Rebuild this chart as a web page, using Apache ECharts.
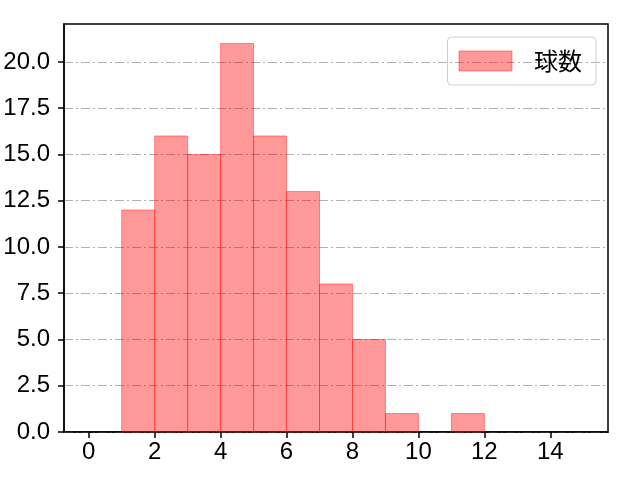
<!DOCTYPE html>
<html>
<head>
<meta charset="utf-8">
<script src="https://cdn.jsdelivr.net/npm/echarts@6/dist/echarts.min.js"></script>
<style>
  html, body { margin: 0; padding: 0; background: #fff; }
  #main { width: 640px; height: 480px; }
</style>
</head>
<body>
<div id="main"></div>
<script>
// histogram of 球数: bins of width 1
var binStarts = [1, 2, 3, 4, 5, 6, 7, 8, 9, 10, 11];
var counts = [12, 16, 15, 21, 16, 13, 8, 5, 1, 0, 1];
var binWidth = 1;
var xTicks = [0, 2, 4, 6, 8, 10, 12, 14];
var seriesName = '球数';

var barFill = 'rgba(255,0,0,0.4)';
var fontFamily = '"Liberation Sans", "Noto Sans CJK JP", sans-serif';

var histData = binStarts.map(function (s, i) {
    return [s, s + binWidth, counts[i]];
});

var myChart = echarts.init(document.getElementById('main'), null, { renderer: 'canvas' });

var option = {
    animation: false,
    grid: {
        left: 64,
        right: 32,
        top: 24,
        bottom: 48,
        show: true,
        borderColor: '#000',
        borderWidth: 1.5,
        backgroundColor: 'transparent'
    },
    legend: {
        right: 44,
        top: 37,
        orient: 'vertical',
        padding: [12, 14, 12, 11],
        borderColor: '#d0d0d0',
        borderWidth: 1,
        borderRadius: 4,
        itemWidth: 53,
        itemHeight: 20,
        textStyle: {
            fontSize: 24,
            fontFamily: '"Noto Sans CJK JP", sans-serif',
            color: '#000',
            padding: [0, 0, 0, 17]
        },
        data: [{
            name: seriesName,
            icon: 'rect',
            itemStyle: { color: barFill, borderColor: barFill, borderWidth: 1 }
        }]
    },
    xAxis: {
        type: 'value',
        min: -0.75,
        max: 15.75,
        splitLine: { show: false },
        axisLine: { onZero: false, lineStyle: { color: '#000', width: 1.5 } },
        axisTick: {
            length: 6,
            customValues: xTicks,
            lineStyle: { color: '#000', width: 1.5 }
        },
        axisLabel: {
            customValues: xTicks,
            fontSize: 24,
            fontFamily: fontFamily,
            color: '#000',
            margin: 8
        }
    },
    yAxis: {
        type: 'value',
        min: 0,
        max: 22.05,
        interval: 2.5,
        axisLine: { show: true, onZero: false, lineStyle: { color: '#000', width: 1.5 } },
        axisTick: { show: true, length: 6, lineStyle: { color: '#000', width: 1.5 } },
        axisLabel: {
            fontSize: 24,
            fontFamily: fontFamily,
            color: '#000',
            margin: 14,
            showMaxLabel: false,
            formatter: function (v) { return v.toFixed(1); }
        },
        splitLine: {
            show: true,
            showMaxLine: false,
            lineStyle: { color: '#b0b0b0', width: 1, type: [9, 3, 2, 3] }
        }
    },
    series: [{
        name: seriesName,
        type: 'custom',
        encode: { x: [0, 1], y: 2 },
        data: histData,
        renderItem: function (params, api) {
            if (!api.value(2)) {
                return null;
            }
            var p0 = api.coord([api.value(0), api.value(2)]);
            var p1 = api.coord([api.value(1), 0]);
            return {
                type: 'rect',
                shape: { x: p0[0], y: p0[1], width: p1[0] - p0[0], height: p1[1] - p0[1] },
                style: { fill: barFill, stroke: barFill, lineWidth: 1 }
            };
        }
    }]
};

myChart.setOption(option);
window.addEventListener('resize', myChart.resize);
</script>
</body>
</html>
